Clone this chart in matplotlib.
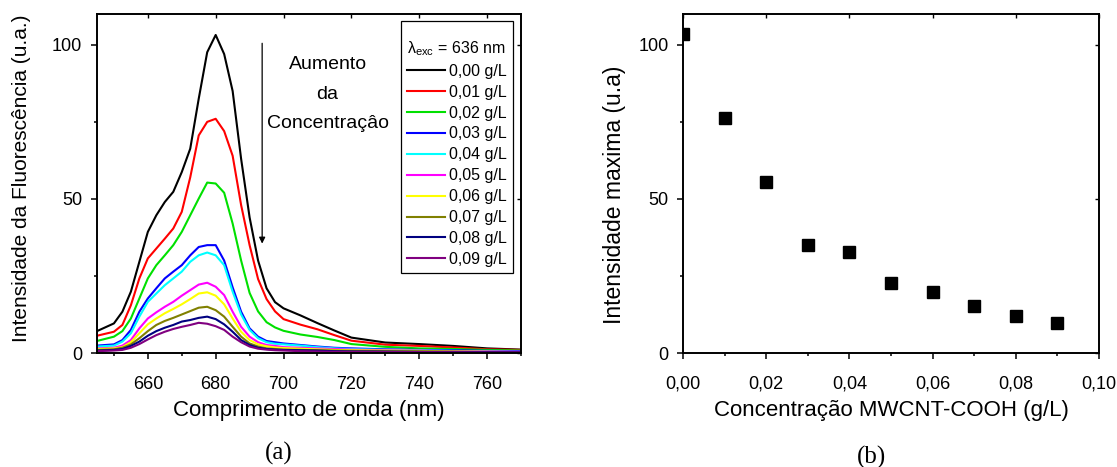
import numpy as np
import matplotlib
matplotlib.use('Agg')
import matplotlib.pyplot as plt
from matplotlib.ticker import MultipleLocator

plt.rcParams['font.family'] = ['Liberation Sans', 'DejaVu Sans']
plt.rcParams['mathtext.fontset'] = 'custom'
plt.rcParams['mathtext.rm'] = 'Liberation Sans'
plt.rcParams['mathtext.it'] = 'Liberation Sans:italic'

# wavelength grid (nm)
wavelength = [645, 650, 652.5, 655, 657.5, 660, 662.5, 665, 667.5, 670, 672.5, 675, 677.5, 680,
              682.5, 685, 687.5, 690, 692.5, 695, 697.5, 700, 705, 710, 715, 720, 730, 740, 750, 760, 770]

conc_000 = [7.1, 9.6, 13.4, 19.9, 29.6, 39.3, 44.7, 49.0, 52.3, 58.7, 66.3, 82.5, 97.6, 103.2,
            97.0, 85.0, 63.0, 44.0, 30.0, 21.0, 16.5, 14.5, 12.2, 9.7, 7.3, 5.0, 3.4, 2.9, 2.3, 1.5, 1.1]
conc_001 = [5.6, 6.9, 9.1, 15.5, 24.2, 30.7, 33.9, 37.1, 40.4, 45.8, 57.0, 70.6, 75.0, 76.0,
            72.0, 64.0, 48.0, 35.0, 24.0, 17.5, 13.5, 11.0, 9.2, 7.7, 5.8, 4.0, 2.7, 2.3, 1.8, 1.2, 1.0]
conc_002 = [3.9, 5.3, 7.1, 11.2, 17.7, 24.2, 28.5, 31.7, 35.0, 39.3, 44.7, 50.1, 55.3, 55.0,
            52.0, 42.0, 30.0, 19.5, 13.5, 10.0, 8.3, 7.2, 6.0, 5.2, 4.2, 2.9, 2.0, 1.5, 1.3, 1.0, 0.8]
conc_003 = [2.4, 2.8, 4.2, 7.5, 13.4, 17.7, 21.0, 24.2, 26.4, 28.5, 31.7, 34.4, 35.0, 35.0,
            30.0, 21.3, 13.4, 8.0, 5.3, 3.9, 3.5, 3.1, 2.6, 2.1, 1.7, 1.5, 1.2, 1.0, 0.9, 0.7, 0.6]
conc_004 = [2.1, 2.4, 3.7, 6.4, 11.8, 16.6, 19.3, 22.0, 24.2, 26.4, 29.6, 31.7, 32.6, 31.7,
            28.5, 19.9, 12.5, 7.5, 4.8, 3.5, 3.0, 2.8, 2.4, 1.9, 1.5, 1.3, 1.0, 0.9, 0.7, 0.5, 0.4]
conc_005 = [1.5, 1.7, 2.4, 4.2, 8.0, 11.2, 13.2, 15.0, 16.6, 18.6, 20.4, 22.2, 22.8, 21.5,
            18.8, 13.4, 8.5, 5.3, 3.5, 2.6, 2.3, 1.9, 1.7, 1.5, 1.3, 1.1, 0.9, 0.8, 0.6, 0.5, 0.4]
conc_006 = [1.3, 1.5, 1.9, 3.5, 6.4, 9.3, 11.2, 12.9, 14.3, 15.8, 17.5, 19.3, 19.7, 18.6,
            15.8, 11.2, 6.9, 4.2, 2.8, 2.2, 1.8, 1.6, 1.4, 1.2, 1.0, 0.9, 0.8, 0.7, 0.5, 0.4, 0.3]
conc_007 = [1.0, 1.2, 1.7, 2.8, 4.8, 7.1, 9.1, 10.4, 11.4, 12.5, 13.6, 14.7, 15.0, 13.9,
            11.8, 8.5, 5.3, 3.1, 2.1, 1.5, 1.3, 1.1, 1.0, 0.9, 0.8, 0.7, 0.6, 0.5, 0.4, 0.3, 0.3]
conc_008 = [0.8, 1.0, 1.3, 2.3, 3.7, 5.6, 7.1, 8.2, 9.1, 10.2, 10.7, 11.4, 11.8, 11.0,
            9.3, 6.9, 4.2, 2.6, 1.7, 1.3, 1.1, 1.0, 0.9, 0.8, 0.6, 0.5, 0.45, 0.4, 0.35, 0.3, 0.25]
conc_009 = [0.6, 0.8, 1.0, 1.7, 2.9, 4.4, 5.8, 6.9, 7.8, 8.5, 9.1, 9.8, 9.5, 8.7,
            7.5, 5.3, 3.5, 2.1, 1.4, 1.1, 0.9, 0.8, 0.6, 0.5, 0.4, 0.35, 0.3, 0.3, 0.25, 0.2, 0.2]

spectra = [conc_000, conc_001, conc_002, conc_003, conc_004,
           conc_005, conc_006, conc_007, conc_008, conc_009]
labels = ['0,00 g/L', '0,01 g/L', '0,02 g/L', '0,03 g/L', '0,04 g/L',
          '0,05 g/L', '0,06 g/L', '0,07 g/L', '0,08 g/L', '0,09 g/L']
colors = ['#000000', '#ff0000', '#00e000', '#0000ff', '#00ffff',
          '#ff00ff', '#ffff00', '#808000', '#000080', '#800080']

# panel (b): peak intensity vs concentration
concentration = [0.00, 0.01, 0.02, 0.03, 0.04, 0.05, 0.06, 0.07, 0.08, 0.09]
peak_intensity = [103.5, 76.2, 55.5, 35.1, 32.8, 22.7, 19.7, 15.1, 12.1, 9.7]
conc_ticks = [0.00, 0.02, 0.04, 0.06, 0.08, 0.10]
conc_ticklabels = ['0,00', '0,02', '0,04', '0,06', '0,08', '0,10']


def style_axes(ax):
	for sp in ax.spines.values():
		sp.set_linewidth(1.4)
	ax.tick_params(which='both', direction='out', labelsize=13, width=1.1)
	ax.tick_params(which='major', length=4.5, pad=6)
	ax.tick_params(which='minor', length=2.5)
	ax.tick_params(axis='x', which='major', pad=12)
	ax.tick_params(top=False, right=False, which='both')
	# mirror ticks pointing inside on top and right
	sec_x = ax.secondary_xaxis('top')
	sec_x.set_xticks(ax.get_xticks())
	sec_x.tick_params(direction='in', length=3, width=1.0, labeltop=False)
	sec_x.spines['top'].set_visible(False)
	sec_y = ax.secondary_yaxis('right')
	sec_y.set_yticks(ax.get_yticks())
	sec_y.tick_params(direction='in', length=3, width=1.0, labelright=False)
	sec_y.spines['right'].set_visible(False)


fig = plt.figure(figsize=(11.17, 4.67), dpi=100)

ax1 = fig.add_axes([0.0868, 0.2441, 0.3796, 0.7259])
for vals, lab, col in zip(spectra, labels, colors):
	ax1.plot(wavelength, vals, color=col, lw=1.5, label=lab)
ax1.set_xlim(645, 770)
ax1.set_ylim(0, 110)
ax1.xaxis.set_major_locator(MultipleLocator(20))
ax1.xaxis.set_minor_locator(MultipleLocator(10))
ax1.yaxis.set_major_locator(MultipleLocator(50))
ax1.yaxis.set_minor_locator(MultipleLocator(25))
ax1.set_xlabel('Comprimento de onda (nm)', fontsize=16, labelpad=5)
ax1.set_ylabel('Intensidade da Fluorescência (u.a.)', fontsize=15, labelpad=15)
ax1.yaxis.label.set_y(0.515)
style_axes(ax1)

ax1.annotate('', xy=(693.7, 35.5), xytext=(693.7, 100.5),
			 arrowprops=dict(arrowstyle='-|>', color='black', lw=0.9,
							 mutation_scale=9, shrinkA=0, shrinkB=0))
ax1.text(713, 96.3, 'Aumento\nda\nConcentraçâo', fontsize=14, ha='center', va='top',
		 linespacing=1.97)

leg = ax1.legend(loc='lower right', bbox_to_anchor=(0.981, 0.235), borderaxespad=0,
				 fontsize=11.5, title='\nλ$_{\\rm exc}$ = 636 nm', title_fontsize=11.5,
				 frameon=True, fancybox=False, edgecolor='black', framealpha=1,
				 handlelength=2.36, handletextpad=0.25, labelspacing=0.37, borderpad=0.4)
leg.get_title().set_linespacing(0.8)
leg.get_frame().set_linewidth(0.9)
leg._legend_box.align = 'left'

ax2 = fig.add_axes([0.6115, 0.2441, 0.3724, 0.7259])
ax2.plot(concentration, peak_intensity, 's', color='black', ms=8, clip_on=True)
ax2.set_xlim(0, 0.10)
ax2.set_ylim(0, 110)
ax2.set_xticks(conc_ticks)
ax2.set_xticklabels(conc_ticklabels)
ax2.xaxis.set_minor_locator(MultipleLocator(0.01))
ax2.yaxis.set_major_locator(MultipleLocator(50))
ax2.yaxis.set_minor_locator(MultipleLocator(25))
ax2.set_xlabel('Concentração MWCNT-COOH (g/L)', fontsize=16, labelpad=5)
ax2.set_ylabel('Intensidade maxima (u.a)', fontsize=16.5, labelpad=9)
ax2.yaxis.label.set_y(0.466)
style_axes(ax2)

fig.text(279 / 1117, 1 - 453 / 467, '(a)', fontsize=18, family='Liberation Serif',
		 ha='center', va='center')
fig.text(872 / 1117, 1 - 457 / 467, '(b)', fontsize=18, family='Liberation Serif',
		 ha='center', va='center')

fig.savefig('out.png', dpi=100)
